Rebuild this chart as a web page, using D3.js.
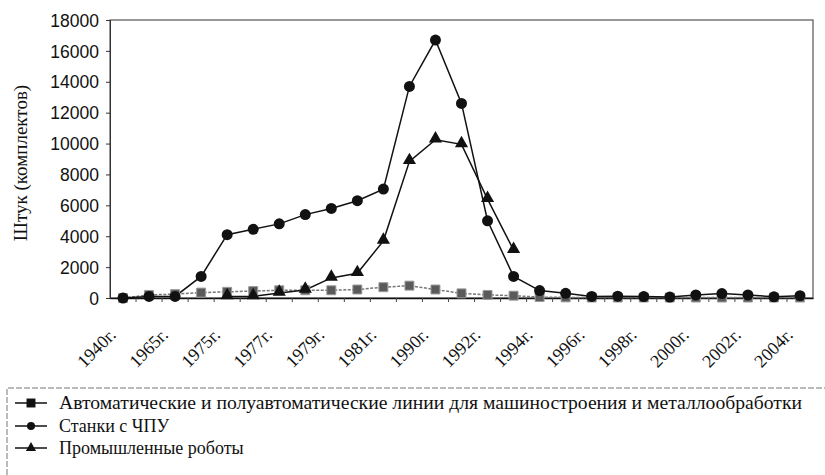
<!DOCTYPE html>
<html><head><meta charset="utf-8">
<script src="https://cdn.jsdelivr.net/npm/d3@7"></script>
<style>body{margin:0;background:#fff}svg{display:block}</style>
</head><body>
<svg id="c" width="825" height="475"></svg>
<script>
const years = ["1940г.","1960г.","1965г.","1970г.","1975г.","1976г.","1977г.","1978г.","1979г.","1980г.","1981г.","1985г.","1990г.","1991г.","1992г.","1993г.","1994г.","1995г.","1996г.","1997г.","1998г.","1999г.","2000г.","2001г.","2002г.","2003г.","2004г."];
const seriesNames = ["Автоматические и полуавтоматические линии для машиностроения и металлообработки","Станки с ЧПУ","Промышленные роботы"];
const lines = [0,200,250,350,400,450,500,500,500,550,700,800,550,300,200,150,60,40,30,30,30,30,30,30,30,30,30];
const cnc = [0,100,100,1400,4100,4450,4800,5400,5800,6300,7050,13700,16700,12600,5000,1400,480,300,100,120,90,60,200,290,200,80,150];
const robots = [null,null,null,null,100,100,330,520,1300,1600,3700,8850,10250,9950,6400,3100,null,null,null,null,null,null,null,null,null,null,null];
const yTicks = [0,2000,4000,6000,8000,10000,12000,14000,16000,18000];

const svg = d3.select("#c");
const L=110,R=813,T=20,B=298;
const x = d3.scaleBand().domain(years).range([L,R]);
const y = d3.scaleLinear().domain([0,18000]).range([B,T]);
const cx = d => x(d)+x.bandwidth()/2;
const serif = "'Liberation Serif','Times New Roman',serif";
const sans = "'Liberation Sans',Arial,sans-serif";

svg.append("rect").attr("x",L).attr("y",T).attr("width",R-L).attr("height",B-T)
  .attr("fill","none").attr("stroke","#555").attr("stroke-width",1.2);

// y axis
const ya = svg.append("g").attr("transform",`translate(${L},0)`)
  .call(d3.axisLeft(y).tickValues(yTicks).tickSize(4).tickFormat(d3.format("d")));
ya.select(".domain").attr("stroke","#333");
ya.selectAll("text").attr("font-family",sans).attr("font-size",17.5).attr("fill","#111").attr("dx",-4).attr("dy","0.35em");
ya.selectAll(".tick line").attr("stroke","#333");

// x axis
const xa = svg.append("g").attr("transform",`translate(0,${B})`)
  .call(d3.axisBottom(x).tickSize(0).tickFormat(""));
xa.select(".domain").attr("stroke","#111").attr("stroke-width",1.5);
svg.append("g").selectAll("line").data(years.slice(1)).join("line")
  .attr("x1",d=>x(d)).attr("x2",d=>x(d)).attr("y1",B).attr("y2",B+4).attr("stroke","#444");
svg.append("g").selectAll("text").data(years.filter((d,i)=>i%2===0)).join("text")
  .attr("transform",d=>`translate(${cx(d)-6},336) rotate(-45)`)
  .attr("text-anchor","end").attr("font-family",serif).attr("font-size",18).attr("fill","#111")
  .text(d=>d);

svg.append("text").attr("transform","translate(27,163) rotate(-90)").attr("text-anchor","middle")
  .attr("font-family",serif).attr("font-size",19).attr("fill","#111").text("Штук (комплектов)");

function pts(arr){return years.map((d,i)=>({d,v:arr[i]})).filter(p=>p.v!=null);}
const lineGen = d3.line().x(p=>cx(p.d)).y(p=>y(p.v));

svg.append("path").datum(pts(lines)).attr("d",lineGen).attr("fill","none").attr("stroke","#777").attr("stroke-width",1.5).attr("stroke-dasharray","3,1.5");
svg.append("path").datum(pts(robots)).attr("d",lineGen).attr("fill","none").attr("stroke","#111").attr("stroke-width",1.5);
svg.append("path").datum(pts(cnc)).attr("d",lineGen).attr("fill","none").attr("stroke","#111").attr("stroke-width",1.5);

const sq = d3.symbol().type(d3.symbolSquare).size(80);
const tri = d3.symbol().type(d3.symbolTriangle).size(75);
svg.append("g").selectAll("path").data(pts(lines)).join("path").attr("d",sq)
  .attr("transform",p=>`translate(${cx(p.d)},${y(p.v)})`).attr("fill","#5a5a5a").attr("stroke","#999").attr("stroke-width",1);
svg.append("g").selectAll("path").data(pts(robots)).join("path").attr("d",tri)
  .attr("transform",p=>`translate(${cx(p.d)},${y(p.v)-1})`).attr("fill","#111");
svg.append("g").selectAll("circle").data(pts(cnc)).join("circle")
  .attr("cx",p=>cx(p.d)).attr("cy",p=>y(p.v)).attr("r",5.5).attr("fill","#111");

// legend
svg.append("path").attr("d","M7,475 L7,388 L825,388").attr("fill","none").attr("stroke","#777").attr("stroke-width",1).attr("stroke-dasharray","6,2");
const ly=[403,426,448];
const lg = svg.append("g");
seriesNames.forEach((n,i)=>{
  lg.append("line").attr("x1",15).attr("x2",47).attr("y1",ly[i]).attr("y2",ly[i]).attr("stroke","#111").attr("stroke-width",1.5);
  const t = lg.append("text").attr("x",59).attr("y",ly[i]).attr("dy","0.35em").attr("font-family",serif).attr("font-size",18).attr("fill","#111").text(n);
  if(i===0) t.attr("textLength",743).attr("lengthAdjust","spacingAndGlyphs");
});
lg.append("path").attr("d",sq).attr("transform",`translate(31,${ly[0]})`).attr("fill","#111");
lg.append("circle").attr("cx",31).attr("cy",ly[1]).attr("r",4).attr("fill","#111");
lg.append("path").attr("d",d3.symbol().type(d3.symbolTriangle).size(45)).attr("transform",`translate(31,${ly[2]})`).attr("fill","#111");
</script></body></html>
